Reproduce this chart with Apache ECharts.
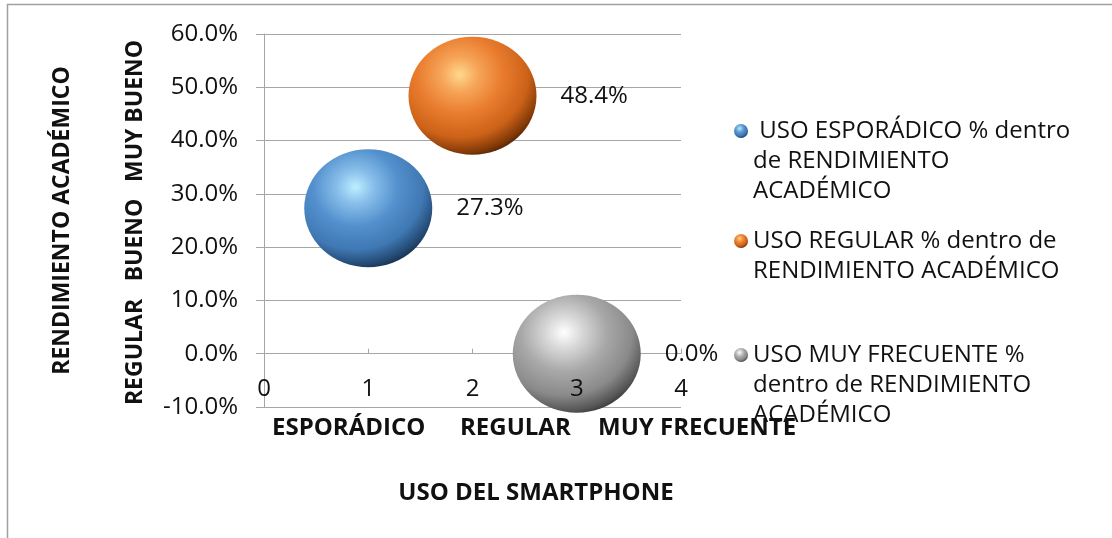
<!DOCTYPE html>
<html>
<head>
<meta charset="utf-8">
<title>Rendimiento académico y uso del smartphone</title>
<script src="https://cdn.jsdelivr.net/npm/echarts@6/dist/echarts.min.js"></script>
<style>
  html, body { margin: 0; padding: 0; background: #fff; }
  #chart { width: 1112px; height: 538px; }
</style>
</head>
<body>
<div id="chart"></div>
<script>
// datos del grafico
var seriesNames = [
  'USO ESPORÁDICO % dentro de RENDIMIENTO ACADÉMICO',
  'USO REGULAR % dentro de RENDIMIENTO ACADÉMICO',
  'USO MUY FRECUENTE % dentro de RENDIMIENTO ACADÉMICO'
];
var legendLines = [
  [' USO ESPORÁDICO % dentro', 'de RENDIMIENTO', 'ACADÉMICO'],
  ['USO REGULAR % dentro de', 'RENDIMIENTO ACADÉMICO'],
  ['USO MUY FRECUENTE %', 'dentro de RENDIMIENTO', 'ACADÉMICO']
];
var usoX = [1, 2, 3];
var pctValues = [27.3, 48.4, 0.0];
var usoLabels = ['ESPORÁDICO', 'REGULAR', 'MUY FRECUENTE'];
var rendLabels = ['REGULAR', 'BUENO', 'MUY BUENO'];

var FONT = 'Open Sans';
var FS = 24;        // texto horizontal
var FS_V = 23;      // texto vertical
var gridColor = '#a6a6a6';
var textColor = '#111';

// colores de las esferas (brillo -> borde)
var sphereColors = [
  ['#bdeeff', '#86bde9', '#5390cd', '#3f78b3', '#22466f', '#0f2236'],
  ['#ffd88c', '#f6a458', '#e97c2e', '#cc6218', '#7f3807', '#3a1600'],
  ['#ffffff', '#d6d6d6', '#a8a8a8', '#8a8a8a', '#555555', '#2a2a2a']
];

function sphere(c) {
  return {
    type: 'radial', x: 0.4, y: 0.32, r: 0.74,
    colorStops: [
      {offset: 0, color: c[0]},
      {offset: 0.2, color: c[1]},
      {offset: 0.45, color: c[2]},
      {offset: 0.72, color: c[3]},
      {offset: 0.9, color: c[4]},
      {offset: 1, color: c[5]}
    ]
  };
}

var legendIconY = [131, 241, 355];
var LH = 30;

var myChart = echarts.init(document.getElementById('chart'));

var series = seriesNames.map(function (name, i) {
  return {
    name: name,
    type: 'scatter',
    xAxisIndex: 0,
    symbol: 'circle',
    symbolSize: [128, 118],
    data: [[usoX[i], pctValues[i]]],
    itemStyle: {color: sphere(sphereColors[i]), opacity: 1},
    emphasis: {disabled: true},
    label: {
      show: true,
      position: 'right',
      distance: 24,
      fontFamily: FONT,
      fontSize: FS,
      color: textColor,
      formatter: function (p) { return p.value[1].toFixed(1) + '%'; }
    }
  };
});

// el icono queda centrado en el texto: se anteponen lineas vacias
var legends = seriesNames.map(function (name, i) {
  var n = legendLines[i].length;
  var pre = new Array(n).join('\n');
  return {
    data: [name],
    orient: 'vertical',
    left: 734,
    top: legendIconY[i] - (2 * n - 1) * LH / 2,
    padding: 0,
    itemWidth: 14,
    itemHeight: 14,
    icon: 'circle',
    selectedMode: false,
    formatter: function () { return pre + legendLines[i].join('\n'); },
    textStyle: {
      fontFamily: FONT,
      fontSize: FS,
      lineHeight: LH,
      color: textColor
    }
  };
});

var usoLeft = [272, 460, 598];
var rendCenterY = [352, 240, 111];

var graphics = [{
  type: 'rect',
  shape: {x: 7.5, y: 4.5, width: 1300, height: 700},
  style: {fill: null, stroke: '#a0a0a0', lineWidth: 1.5},
  silent: true
}];
usoLabels.forEach(function (t, i) {
  graphics.push({
    type: 'text', x: usoLeft[i], y: 428,
    style: {text: t, font: 'bold ' + FS + 'px "' + FONT + '"', fill: textColor,
            align: 'left', verticalAlign: 'middle', textAlign: 'left', textVerticalAlign: 'middle'}
  });
});
rendLabels.forEach(function (t, i) {
  graphics.push({
    type: 'text', x: 135, y: rendCenterY[i], rotation: Math.PI / 2,
    style: {text: t, font: 'bold ' + FS_V + 'px "' + FONT + '"', fill: textColor,
            align: 'center', verticalAlign: 'middle', textAlign: 'center', textVerticalAlign: 'middle'}
  });
});
graphics.push({
  type: 'text', x: 536, y: 493,
  style: {text: 'USO DEL SMARTPHONE', font: 'bold ' + FS + 'px "' + FONT + '"', fill: textColor,
          align: 'center', verticalAlign: 'middle', textAlign: 'center', textVerticalAlign: 'middle'}
});

var option = {
  animation: false,
  backgroundColor: '#fff',
  grid: {left: 264, right: 431, top: 34, bottom: 131, containLabel: false, outerBoundsMode: 'none'},
  xAxis: [{
    type: 'value', min: 0, max: 4, interval: 1,
    axisLine: {show: true, onZero: true, lineStyle: {color: gridColor, width: 1}},
    axisTick: {show: true, inside: true, length: 5, lineStyle: {color: gridColor}},
    axisLabel: {show: false},
    splitLine: {show: false}
  }, {
    type: 'value', min: 0, max: 4, interval: 1, position: 'bottom', z: 10,
    axisLine: {show: false, onZero: false},
    axisTick: {show: false},
    splitLine: {show: false},
    axisLabel: {show: true, inside: true, margin: 6, fontFamily: FONT, fontSize: FS, color: textColor}
  }],
  yAxis: {
    type: 'value', min: -10, max: 60, interval: 10,
    name: 'RENDIMIENTO ACADÉMICO',
    nameLocation: 'middle',
    nameGap: 190,
    nameRotate: 90,
    nameTextStyle: {fontFamily: FONT, fontSize: FS_V, fontWeight: 'bold', color: textColor},
    axisLine: {show: true, lineStyle: {color: gridColor, width: 1}},
    axisTick: {show: true, length: 8, lineStyle: {color: gridColor}},
    axisLabel: {
      margin: 26, fontFamily: FONT, fontSize: FS, color: textColor,
      formatter: function (v) { return v.toFixed(1) + '%'; }
    },
    splitLine: {show: true, lineStyle: {color: gridColor, width: 1}}
  },
  legend: legends,
  series: series,
  graphic: graphics
};

myChart.setOption(option);
</script>
</body>
</html>
